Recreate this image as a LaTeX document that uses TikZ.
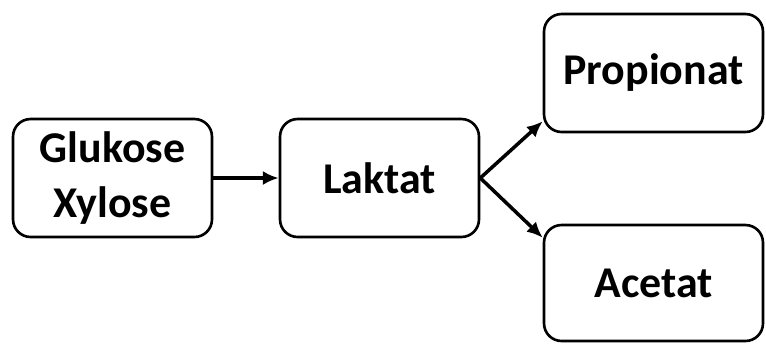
\documentclass[tikz,border=0pt]{standalone}
\usepackage{fontspec}
\setmainfont{Carlito}
\usetikzlibrary{arrows.meta,calc}

\begin{document}
\begin{tikzpicture}[x=0.02cm,y=-0.02cm,
    stoff/.style={draw,line width=1.5pt,rounded corners=10pt,align=center,inner sep=0pt,
        minimum width=3.98cm,minimum height=2.36cm,
        font=\bfseries\fontsize{25}{31}\selectfont},
    pfeil/.style={-{Latex[length=9pt,width=8pt]},line width=2pt}]
    \useasboundingbox (0,0) rectangle (766,343);
    % Ausgangsstoffe und Zwischenprodukt
    \node[stoff] (zucker) at (112.5,178) {Glukose\\Xylose};
    \node[stoff] (laktat) at (379.5,178) {Laktat};
    % Endprodukte
    \node[stoff,minimum width=4.38cm] (propionat) at (653.5,73) {Propionat};
    \node[stoff,minimum width=4.38cm,minimum height=2.32cm] (acetat) at (653.5,283) {Acetat};
    % Pfeile
    \draw[pfeil] (zucker.east) -- (laktat.west);
    \draw[pfeil] (laktat.east) -- ($(propionat.south west)+(0,-12)$);
    \draw[pfeil] (laktat.east) -- ($(acetat.north west)+(0,14)$);
\end{tikzpicture}
\end{document}
